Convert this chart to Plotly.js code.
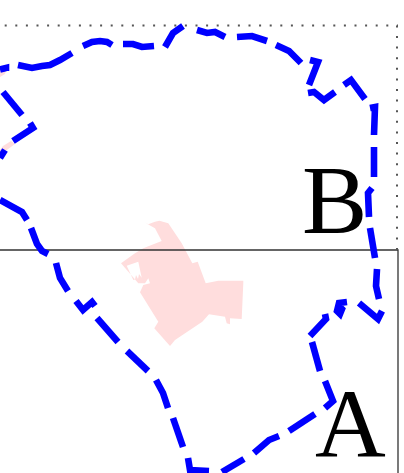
<!DOCTYPE html>
<html>
<head>
<meta charset="utf-8">
<script src="https://cdn.plot.ly/plotly-3.0.1.min.js"></script>
<style>html,body{margin:0;padding:0;background:#fff;overflow:hidden}#chart{width:404px;height:473px}</style>
</head>
<body>
<div id="chart"></div>
<script>
var boundaryX = [0,6,6,null,18,25,32,42,50,60,72,null,83,92,100,107,112,null,123,133,142,154,null,165,173,183,null,197,207,215,225,null,237,252,267,null,276,289,301,null,310,318,309,null,308,314,324,335,null,344,351,365,null,370,375,374,null,374,374,null,372,368,369,null,370,375,null,377,376,379,null,359,378,382,null,347,339,337,340,342,339,null,325,326,310,null,312,315,320,null,325,333,325,null,315,289,null,279,269,254,null,244,222,null,188,190,209,null,183,173,null,168,163,156,null,148,127,null,118,107,97,null,95,92,83,76,null,68,60,56,null,48,42,37,31,null,27,22,0,null,0,5,null,13,33,30,null,22,3];
var boundaryY = [69.5,68,71,null,65,66,68,66,65,60,53,null,46,42,41,42,45,null,44,44,47,46,null,47,33,26,null,30,33,32,37,null,37,36,41,null,45,51,63,null,60,62,85,null,93,92,100,92,null,85,80,99,null,108,107,135,null,147,177,null,188,193,217,null,228,258,null,269,286,299,null,303,319,311,null,302,303,311,314,309,306,null,314,319,336,null,342,351,371,null,381,401,408,null,414,431,null,436,440,453,null,459,472,null,458,470,471,null,447,418,null,408,393,380,null,371,351,null,342,329,318,null,306,302,310,301,null,291,278,263,null,254,251,244,228,null,220,212,200,null,158,150,null,141,128,123,null,115,92];
var regionX = [144.3,148.3,155,159.3,168.3,178.3,181.7,192.3,197.7,205.7,218.3,243.3,243.3,241.7,230,230,226.7,225,209,202.3,186.7,175,170,154.3,158.3,140,143.3,150,148.3,145,138.3,121,126.7,133.3,135,136,138,139,141.7,138.3,126.7,121,135,143.3,161.7,155,144.3];
var regionY = [222.3,224.3,221.7,220.7,223.3,238.3,243.3,263.3,261.7,283.3,280.7,280.7,283.3,319,318.3,324.3,323.3,316.7,314.3,321.7,331.7,340,346,328.3,321.7,292.3,285,283.3,278.3,283.3,283.3,263.3,265.7,280,279.5,275,279,274,277.7,261.7,265.7,263.3,253.3,248.3,241,228.3,222.3];
var islandAX = [0,6,5,0,0];
var islandAY = [70,70,74,77,70];
var islandBX = [0,9,15,11,3,0,0];
var islandBY = [155,148,144,141,146,150,155];
var frameAX = [0,398,398];
var frameAY = [250,250,473];
var frameBX = [397,397,397,0];
var frameBY = [250,250,25.5,25.5];
var labels = ["A","B"];
var labelX = [350,334];
var labelY = [423,199.5];

var traces = [
  {x:regionX,y:regionY,mode:'lines',fill:'toself',fillcolor:'#ffdddd',line:{width:0}},
  {x:islandAX,y:islandAY,mode:'lines',fill:'toself',fillcolor:'#ffdddd',line:{width:0}},
  {x:islandBX,y:islandBY,mode:'lines',fill:'toself',fillcolor:'#ffdddd',line:{width:0}},
  {x:frameAX,y:frameAY,mode:'lines',line:{color:'#333333',width:1.3}},
  {x:frameBX,y:frameBY,mode:'lines',line:{color:'#555555',width:2,dash:'2px,8.6px'}},
  {x:boundaryX,y:boundaryY,mode:'lines',connectgaps:false,line:{color:'#0000ff',width:6.6,shape:'linear'}}
];
var layout = {
  width:404,height:473,margin:{l:0,r:0,t:0,b:0,pad:0},
  paper_bgcolor:'#fff',plot_bgcolor:'#fff',showlegend:false,
  xaxis:{range:[0,404],visible:false,fixedrange:true},
  yaxis:{range:[473,0],visible:false,fixedrange:true},
  annotations:labels.map(function(t,i){return {
    x:labelX[i],y:labelY[i],xref:'x',yref:'y',text:t,showarrow:false,xanchor:'center',yanchor:'middle',
    font:{family:'Liberation Serif',size:98,color:'#000'}
  };})
};
Plotly.newPlot('chart',traces,layout,{staticPlot:true,displayModeBar:false});
</script>
</body>
</html>
